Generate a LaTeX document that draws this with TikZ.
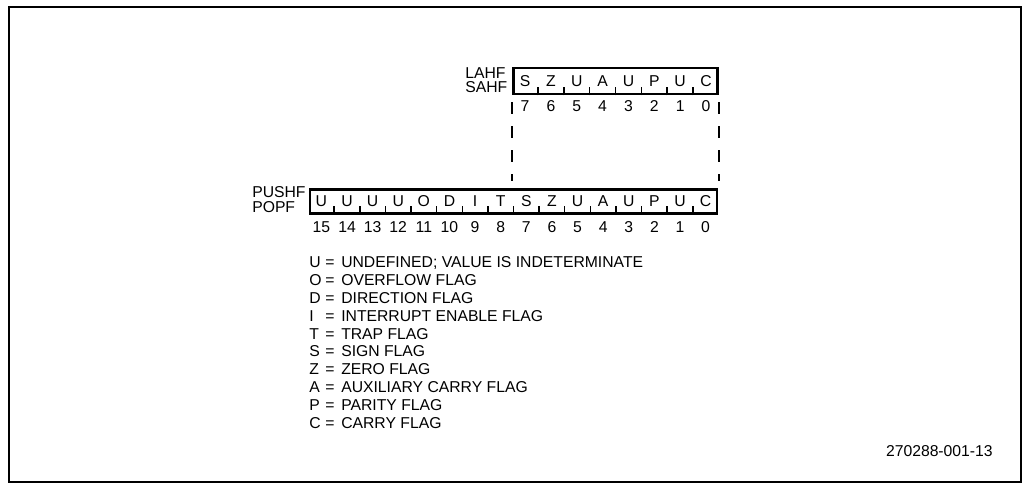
\documentclass[tikz,border=0pt]{standalone}
\usepackage{fontspec}
\setmainfont{Liberation Sans}
\usetikzlibrary{calc,positioning}
\tikzset{
  regbox/.style   = {draw, line width=2.1pt, inner sep=0pt},
  tickln/.style   = {line width=1.1pt},
  lbl/.style      = {inner sep=0pt, text height=8.6pt, text depth=0.4pt,
                     font=\fontsize{11.8}{13}\selectfont},
  dashline/.style = {line width=2pt, dash pattern=on 9pt off 9pt},
}
\begin{document}
\begin{tikzpicture}[x=0.75pt,y=-0.75pt]
  \useasboundingbox (0,0) rectangle (1028,487);
  \draw[line width=2.2pt] (9,7) rectangle (1021,482);

  % the two registers
  \node[regbox, minimum width=153pt, minimum height=19.5pt] (lahf) at (615.5,81) {};
  \node[regbox, minimum width=305.25pt, minimum height=17.5pt] (pushf) at (513.5,201.5) {};
  \node[lbl, anchor=west] (lahflbl) at (465,73) {LAHF};
  \node[lbl, anchor=west] (sahflbl) at (465,87) {SAHF};
  \node[lbl, anchor=west] (pushflbl) at (252,192) {PUSHF};
  \node[lbl, anchor=west] (popflbl) at (252,207.5) {POPF};

  % low byte
  \foreach \f [count=\i] in {S,Z,U,A,U,P,U,C}
    \node[lbl] (hb\i) at ($(lahf.west)!{(\i-0.5)/8}!(lahf.east)$) {\f};
  \foreach \i in {1,...,7}
    \draw[tickln] ($(lahf.south west)!\i/8!(lahf.south east)$) -- ++(0,-8);
  \foreach \n [count=\i] in {7,...,0}
    \node[lbl] (hn\i) at ($(lahf.south west)!{(\i-0.5)/8}!(lahf.south east)+(0,11)$) {\n};

  % whole flag word
  \foreach \f [count=\i] in {U,U,U,U,O,D,I,T,S,Z,U,A,U,P,U,C}
    \node[lbl] (fb\i) at ($(pushf.west)!{(\i-0.5)/16}!(pushf.east)$) {\f};
  \foreach \i in {1,...,15}
    \draw[tickln] ($(pushf.south west)!\i/16!(pushf.south east)$) -- ++(0,-9);
  \foreach \n [count=\i] in {15,...,0}
    \node[lbl] (fn\i) at ($(pushf.south west)!{(\i-0.5)/16}!(pushf.south east)+(0,12)$) {\n};

  % dashed guides
  \draw[dashline] ($(lahf.south west)+(0,7)$) -- ($(lahf.south west |- pushf.north)+(0,-7)$);
  \draw[dashline] ($(lahf.south east)+(0,7)$) -- ($(lahf.south east |- pushf.north)+(0,-7)$);

  % legend
  \foreach \k/\t [count=\i] in {U/UNDEFINED; VALUE IS INDETERMINATE, O/OVERFLOW FLAG,
      D/DIRECTION FLAG, I/INTERRUPT ENABLE FLAG, T/TRAP FLAG, S/SIGN FLAG,
      Z/ZERO FLAG, A/AUXILIARY CARRY FLAG, P/PARITY FLAG, C/CARRY FLAG} {
    \node[lbl, anchor=west] (key\i) at (309,{262+17.9*(\i-1)}) {\k};
    \node[lbl, anchor=west] (eq\i) at (325,{262+17.9*(\i-1)}) {=};
    \node[lbl, anchor=west] (txt\i) at (341,{262+17.9*(\i-1)}) {\t};
  }

  \node[lbl, anchor=east] (figno) at (993,451) {270288-001-13};
\end{tikzpicture}
\end{document}
